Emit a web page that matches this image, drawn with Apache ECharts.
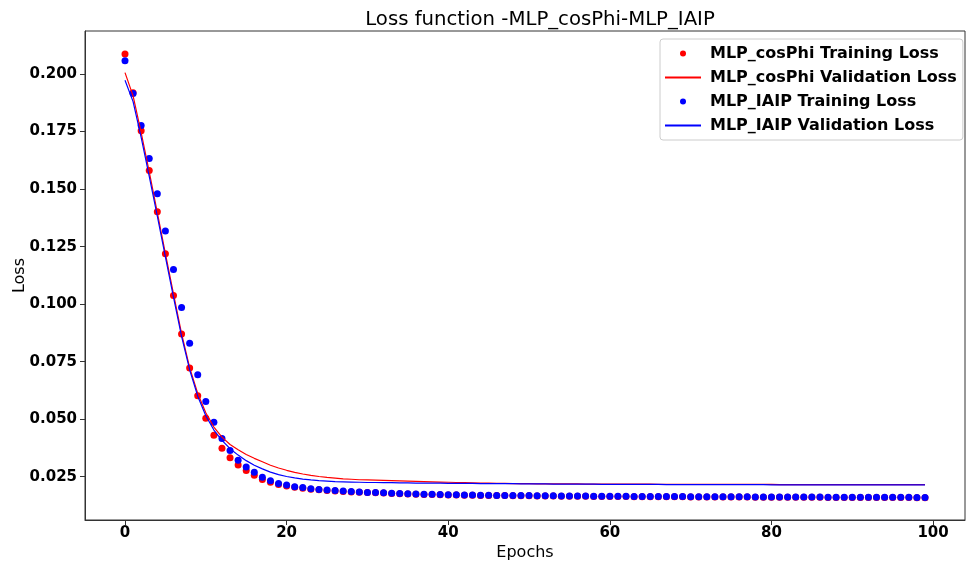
<!DOCTYPE html>
<html>
<head>
<meta charset="utf-8">
<script src="https://cdn.jsdelivr.net/npm/echarts@6/dist/echarts.min.js"></script>
<style>
    html, body { margin: 0; padding: 0; background: #fff; }
    #lossChart { width: 967px; height: 566px; }
</style>
</head>
<body>
<div id="lossChart"></div>
<script>
    // epochs 0..99
    const epochs = Array.from({length: 100}, (_, i) => i);

    const cosPhiTrain = [
        0.2087, 0.1919, 0.1753, 0.1581, 0.1402, 0.1219, 0.1038, 0.0870, 0.0723, 0.0602,
        0.0504, 0.0430, 0.0374, 0.0332, 0.0301, 0.0277, 0.0257, 0.0238, 0.0226, 0.0216,
        0.0210, 0.0204, 0.0200, 0.0196, 0.0193, 0.0190, 0.0188, 0.0186, 0.0184, 0.0183,
        0.0181, 0.0180, 0.0179, 0.0177, 0.0176, 0.0175, 0.0174, 0.0173, 0.0173, 0.0172,
        0.0171, 0.0171, 0.0170, 0.0170, 0.0169, 0.0169, 0.0168, 0.0168, 0.0167, 0.0167,
        0.0167, 0.0166, 0.0166, 0.0166, 0.0165, 0.0165, 0.0165, 0.0165, 0.0164, 0.0164,
        0.0164, 0.0164, 0.0164, 0.0163, 0.0163, 0.0163, 0.0163, 0.0163, 0.0163, 0.0163,
        0.0162, 0.0162, 0.0162, 0.0162, 0.0162, 0.0162, 0.0162, 0.0162, 0.0161, 0.0161,
        0.0161, 0.0161, 0.0161, 0.0161, 0.0161, 0.0161, 0.0161, 0.0160, 0.0160, 0.0160,
        0.0160, 0.0160, 0.0160, 0.0160, 0.0160, 0.0160, 0.0160, 0.0160, 0.0159, 0.0159
    ];
    const cosPhiVal = [
        0.2006, 0.1905, 0.1745, 0.1575, 0.1398, 0.1220, 0.1045, 0.0872, 0.0724, 0.0612,
        0.0528, 0.0466, 0.0422, 0.0390, 0.0367, 0.0347, 0.0330, 0.0315, 0.0300, 0.0288,
        0.0278, 0.0269, 0.0262, 0.0256, 0.0251, 0.0247, 0.0244, 0.0241, 0.0239, 0.0237,
        0.0236, 0.0235, 0.0234, 0.0233, 0.0232, 0.0231, 0.0230, 0.0229, 0.0228, 0.0227,
        0.0226, 0.0225, 0.0224, 0.0223, 0.0222, 0.0222, 0.0221, 0.0221, 0.0220, 0.0220,
        0.0220, 0.0219, 0.0219, 0.0219, 0.0219, 0.0219, 0.0219, 0.0218, 0.0218, 0.0218,
        0.0218, 0.0218, 0.0218, 0.0218, 0.0218, 0.0218, 0.0217, 0.0217, 0.0217, 0.0217,
        0.0217, 0.0217, 0.0217, 0.0217, 0.0217, 0.0217, 0.0217, 0.0217, 0.0217, 0.0217,
        0.0217, 0.0216, 0.0216, 0.0216, 0.0216, 0.0216, 0.0216, 0.0216, 0.0216, 0.0216,
        0.0216, 0.0216, 0.0216, 0.0216, 0.0216, 0.0216, 0.0216, 0.0216, 0.0216, 0.0216
    ];
    const iaipTrain = [
        0.2058, 0.1915, 0.1776, 0.1633, 0.1480, 0.1318, 0.1151, 0.0985, 0.0830, 0.0693,
        0.0577, 0.0487, 0.0416, 0.0364, 0.0322, 0.0292, 0.0270, 0.0248, 0.0233, 0.0221,
        0.0214, 0.0207, 0.0203, 0.0198, 0.0195, 0.0192, 0.0190, 0.0188, 0.0186, 0.0184,
        0.0182, 0.0181, 0.0180, 0.0178, 0.0177, 0.0176, 0.0175, 0.0174, 0.0174, 0.0173,
        0.0172, 0.0172, 0.0171, 0.0171, 0.0170, 0.0170, 0.0169, 0.0169, 0.0168, 0.0168,
        0.0168, 0.0167, 0.0167, 0.0167, 0.0166, 0.0166, 0.0166, 0.0166, 0.0165, 0.0165,
        0.0165, 0.0165, 0.0165, 0.0164, 0.0164, 0.0164, 0.0164, 0.0164, 0.0164, 0.0164,
        0.0163, 0.0163, 0.0163, 0.0163, 0.0163, 0.0163, 0.0163, 0.0163, 0.0162, 0.0162,
        0.0162, 0.0162, 0.0162, 0.0162, 0.0162, 0.0162, 0.0162, 0.0161, 0.0161, 0.0161,
        0.0161, 0.0161, 0.0161, 0.0161, 0.0161, 0.0161, 0.0161, 0.0161, 0.0160, 0.0160
    ];
    const iaipVal = [
        0.1973, 0.1880, 0.1725, 0.1555, 0.1382, 0.1205, 0.1030, 0.0860, 0.0715, 0.0600,
        0.0515, 0.0453, 0.0408, 0.0372, 0.0344, 0.0320, 0.0300, 0.0284, 0.0270, 0.0259,
        0.0251, 0.0245, 0.0240, 0.0236, 0.0233, 0.0231, 0.0229, 0.0228, 0.0227, 0.0226,
        0.0225, 0.0225, 0.0224, 0.0224, 0.0223, 0.0223, 0.0222, 0.0222, 0.0222, 0.0222,
        0.0221, 0.0221, 0.0221, 0.0221, 0.0220, 0.0220, 0.0220, 0.0220, 0.0220, 0.0219,
        0.0219, 0.0219, 0.0219, 0.0218, 0.0218, 0.0218, 0.0218, 0.0218, 0.0218, 0.0217,
        0.0217, 0.0217, 0.0217, 0.0217, 0.0217, 0.0217, 0.0217, 0.0216, 0.0216, 0.0216,
        0.0216, 0.0216, 0.0216, 0.0216, 0.0216, 0.0216, 0.0216, 0.0216, 0.0216, 0.0216,
        0.0215, 0.0215, 0.0215, 0.0215, 0.0215, 0.0215, 0.0215, 0.0215, 0.0215, 0.0215,
        0.0215, 0.0215, 0.0215, 0.0215, 0.0215, 0.0215, 0.0215, 0.0215, 0.0215, 0.0215
    ];

    const xTicks = [0, 20, 40, 60, 80, 100];
    const yTicks = [0.025, 0.050, 0.075, 0.100, 0.125, 0.150, 0.175, 0.200];

    const seriesNames = [
        'MLP_cosPhi Training Loss',
        'MLP_cosPhi Validation Loss',
        'MLP_IAIP Training Loss',
        'MLP_IAIP Validation Loss'
    ];

    const pair = arr => epochs.map((e, i) => [e, arr[i]]);
    const font = 'DejaVu Sans';

    const chart = echarts.init(document.getElementById('lossChart'));
    chart.setOption({
        animation: false,
        backgroundColor: '#fff',
        title: {
            text: 'Loss function -MLP_cosPhi-MLP_IAIP',
            left: 535,
            top: 5,
            textAlign: 'center',
            textStyle: {fontFamily: font, fontSize: 19.7, fontWeight: 'normal', color: '#000'}
        },
        legend: {
            orient: 'vertical',
            left: 660,
            top: 39,
            padding: [6, 6, 6, 4],
            itemWidth: 36,
            itemHeight: 6,
            itemGap: 7,
            borderColor: '#ccc',
            borderWidth: 1,
            borderRadius: 3,
            backgroundColor: '#fff',
            data: [
                {name: seriesNames[0]},
                {name: seriesNames[1], itemStyle: {opacity: 0}},
                {name: seriesNames[2]},
                {name: seriesNames[3], itemStyle: {opacity: 0}}
            ],
            textStyle: {fontFamily: font, fontSize: 16, fontWeight: 'bold', color: '#000', lineHeight: 17, padding: [0, 0, 0, 4]}
        },
        grid: {
            left: 85,
            right: 2,
            top: 31,
            bottom: 46,
            outerBoundsMode: 'none',
            show: true,
            borderColor: '#333',
            borderWidth: 1
        },
        xAxis: {
            type: 'value',
            min: -4.95,
            max: 103.95,
            name: 'Epochs',
            nameLocation: 'middle',
            nameGap: 25,
            nameMoveOverlap: false,
            nameTextStyle: {fontFamily: font, fontSize: 16, color: '#000'},
            splitLine: {show: false},
            axisLine: {show: true, onZero: false, lineStyle: {color: '#333'}},
            axisTick: {show: true, length: 5, lineStyle: {color: '#333'}, customValues: xTicks},
            axisLabel: {
                customValues: xTicks,
                margin: 6,
                fontFamily: font, fontSize: 15, fontWeight: 'bold', color: '#000'
            }
        },
        yAxis: {
            type: 'value',
            min: 0.0062,
            max: 0.2187,
            name: 'Loss',
            nameLocation: 'middle',
            nameRotate: 90,
            nameGap: 57,
            nameMoveOverlap: false,
            nameTextStyle: {fontFamily: font, fontSize: 16, color: '#000'},
            splitLine: {show: false},
            axisLine: {show: true, onZero: false, lineStyle: {color: '#333'}},
            axisTick: {show: true, length: 5, lineStyle: {color: '#333'}, customValues: yTicks},
            axisLabel: {
                customValues: yTicks,
                margin: 8,
                formatter: v => v.toFixed(3),
                fontFamily: font, fontSize: 15, fontWeight: 'bold', color: '#000'
            }
        },
        series: [
            {
                name: seriesNames[0],
                type: 'scatter',
                symbolSize: 7,
                itemStyle: {color: '#ff0000', opacity: 1},
                data: pair(cosPhiTrain)
            },
            {
                name: seriesNames[1],
                type: 'line',
                symbol: 'none',
                lineStyle: {color: '#ff0000', width: 1.2},
                itemStyle: {color: '#ff0000'},
                data: pair(cosPhiVal)
            },
            {
                name: seriesNames[2],
                type: 'scatter',
                symbolSize: 7,
                itemStyle: {color: '#0000ff', opacity: 1},
                data: pair(iaipTrain)
            },
            {
                name: seriesNames[3],
                type: 'line',
                symbol: 'none',
                lineStyle: {color: '#0000ff', width: 1.2},
                itemStyle: {color: '#0000ff'},
                data: pair(iaipVal)
            }
        ]
    });
</script>
</body>
</html>
